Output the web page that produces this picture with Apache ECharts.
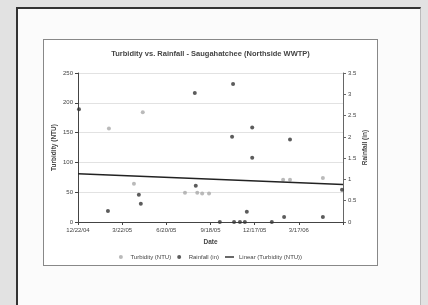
<!DOCTYPE html>
<html lang="en">
<head>
    <meta charset="UTF-8">
    <title>Turbidity vs. Rainfall</title>
    <style>
        body {
            margin: 0;
            width: 428px;
            height: 305px;
            background: #e2e2e2;
            position: relative;
            overflow: hidden;
        }
        #card {
            position: absolute;
            left: 16px;
            top: 7px;
            width: 402px;
            height: 300px;
            background: #fbfbfb;
            border-left: 2px solid #333;
            border-top: 2px solid #333;
            border-right: 1px solid #bbb;
        }
        #main {
            position: absolute;
            left: 43px;
            top: 39px;
            width: 333px;
            height: 225px;
            background: #fff;
            border: 1px solid #888;
        }
    </style>
</head>
<body>
    <div id="card"></div>
    <div id="main"></div>
    <script src="https://cdn.jsdelivr.net/npm/echarts@6.0.0/dist/echarts.min.js"></script>
    <script>
        // x axis runs in days from the first tick, one tick every 90 days
        const startDate = '2004-12-22';
        const xTickLabels = ['12/22/04', '3/22/05', '6/20/05', '9/18/05', '12/17/05', '3/17/06', ''];

        const turbidityDates = ['2005-02-23', '2005-04-15', '2005-05-03', '2005-07-28', '2005-08-22',
            '2005-09-01', '2005-09-15', '2006-02-13', '2006-02-27', '2006-05-05'];
        const turbidityNTU = [157, 64, 184, 49, 49, 48, 48, 71, 71, 74];

        const rainfallDates = ['2004-12-24', '2005-02-21', '2005-04-25', '2005-04-29', '2005-08-17',
            '2005-08-19', '2005-10-07', '2005-11-01', '2005-11-03', '2005-11-05', '2005-11-17',
            '2005-11-27', '2005-12-01', '2005-12-12', '2005-12-12', '2006-01-21', '2006-02-15',
            '2006-02-27', '2006-05-05', '2006-06-13'];
        const rainfallIn = [2.65, 0.26, 0.64, 0.43, 3.03, 0.85, 0, 2.0, 3.24, 0, 0, 0, 0.24,
            2.22, 1.51, 0, 0.12, 1.94, 0.12, 0.76];

        // linear trendline of turbidity, read at both ends of the axis
        const trendDates = ['2004-12-22', '2006-06-15'];
        const trendNTU = [81, 63];

        const toDay = s => (Date.parse(s) - Date.parse(startDate)) / 86400000;
        const pairs = (dates, vals) => dates.map((d, i) => [toDay(d), vals[i]]);

        const font = 'Liberation Sans';
        const txt = '#444';

        const myChart = echarts.init(document.getElementById('main'));
        const option = {
            animation: false,
            textStyle: { fontFamily: font },
            title: {
                text: 'Turbidity vs. Rainfall - Saugahatchee (Northside WWTP)',
                left: 'center',
                top: 5,
                textStyle: { fontSize: 7.5, fontWeight: 'bold', color: txt, fontFamily: font }
            },
            legend: {
                bottom: 0,
                left: 'center',
                itemWidth: 9,
                itemHeight: 4,
                itemGap: 6,
                textStyle: { fontSize: 6, color: txt, fontFamily: font },
                data: [
                    { name: 'Turbidity (NTU)', icon: 'circle' },
                    { name: 'Rainfall (in)', icon: 'circle' },
                    { name: 'Linear (Turbidity (NTU))', icon: 'path://M0,0 L10,0 L10,1.5 L0,1.5 Z' }
                ]
            },
            grid: { left: 34, right: 34, top: 33, bottom: 43, outerBoundsMode: 'none' },
            xAxis: {
                type: 'value',
                min: 0,
                max: 540,
                interval: 90,
                name: 'Date',
                nameLocation: 'middle',
                nameGap: 17,
                nameTextStyle: { fontSize: 6.5, fontWeight: 'bold', color: txt },
                axisLine: { lineStyle: { color: '#444' } },
                axisTick: { show: true, length: 3, lineStyle: { color: '#444' } },
                axisLabel: {
                    fontSize: 6, color: txt, margin: 5,
                    formatter: v => xTickLabels[Math.round(v / 90)] || ''
                },
                splitLine: { show: false }
            },
            yAxis: [
                {
                    type: 'value',
                    min: 0,
                    max: 250,
                    interval: 50,
                    name: 'Turbidity (NTU)',
                    nameLocation: 'middle',
                    nameRotate: 90,
                    nameGap: 20,
                    nameMoveOverlap: false,
                    nameTextStyle: { fontSize: 6.5, fontWeight: 'bold', color: txt },
                    axisLine: { show: true, lineStyle: { color: '#444' } },
                    axisTick: { show: true, length: 3, lineStyle: { color: '#444' } },
                    axisLabel: { fontSize: 6, color: txt, margin: 5 },
                    splitLine: { show: true, lineStyle: { color: '#e2e2e2' } }
                },
                {
                    type: 'value',
                    min: 0,
                    max: 3.5,
                    interval: 0.5,
                    name: 'Rainfall (in)',
                    nameLocation: 'middle',
                    nameRotate: 90,
                    nameGap: 19,
                    nameMoveOverlap: false,
                    nameTextStyle: { fontSize: 6.5, fontWeight: 'bold', color: txt },
                    axisLine: { show: true, lineStyle: { color: '#666' } },
                    axisTick: { show: true, length: 3, lineStyle: { color: '#666' } },
                    axisLabel: { fontSize: 6, color: txt, margin: 5 },
                    splitLine: { show: false }
                }
            ],
            series: [
                {
                    name: 'Turbidity (NTU)',
                    type: 'scatter',
                    yAxisIndex: 0,
                    symbol: 'circle',
                    symbolSize: 4,
                    itemStyle: { color: '#a9a9a9' },
                    data: pairs(turbidityDates, turbidityNTU)
                },
                {
                    name: 'Rainfall (in)',
                    type: 'scatter',
                    yAxisIndex: 1,
                    symbol: 'circle',
                    symbolSize: 4,
                    itemStyle: { color: '#333' },
                    data: pairs(rainfallDates, rainfallIn)
                },
                {
                    name: 'Linear (Turbidity (NTU))',
                    type: 'line',
                    yAxisIndex: 0,
                    showSymbol: false,
                    lineStyle: { color: '#222', width: 1.5 },
                    itemStyle: { color: '#222' },
                    data: pairs(trendDates, trendNTU)
                }
            ]
        };
        myChart.setOption(option);
    </script>
</body>
</html>
